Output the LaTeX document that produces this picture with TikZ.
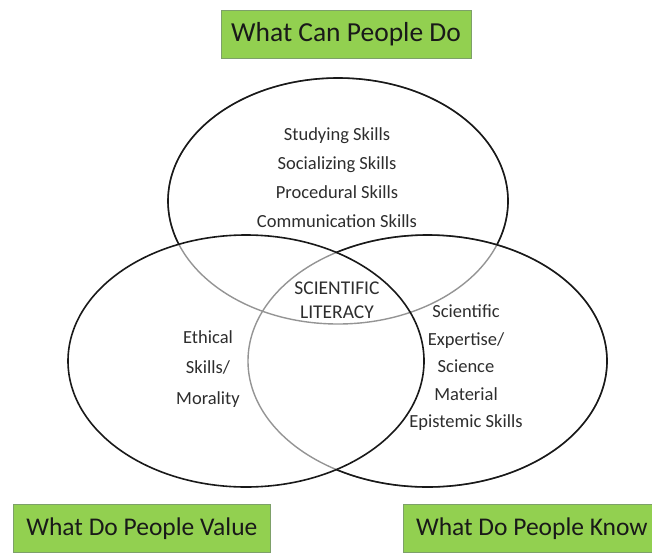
\documentclass[tikz,border=0pt]{standalone}
\usepackage{fontspec}
\setmainfont{Carlito}

\definecolor{boxgreen}{RGB}{146,208,80}
\definecolor{boxline}{RGB}{125,160,105}
\definecolor{skillgray}{RGB}{45,45,45}

\tikzset{
  titlebox/.style={draw=boxline, line width=0.8pt, fill=boxgreen, text=black!90,
    font=\fontsize{27.5}{30}\selectfont, minimum height=48pt, inner sep=0pt},
  skilltext/.style={text=skillgray, align=center, inner sep=0pt},
  ring/.style={line width=1.6pt, draw=black!90},
  innerring/.style={line width=1.4pt, draw=black!42},
  topsize/.style={x radius=170pt, y radius=123pt},
  leftsize/.style={x radius=178pt, y radius=126pt},
  rightsize/.style={x radius=179.5pt, y radius=126pt}
}

\begin{document}
\begin{tikzpicture}[x=1pt, y=-1pt]
\useasboundingbox (0,0) rectangle (652,552);
\clip (0,0) rectangle (652,552);

% set up ellipse centres
\coordinate (T) at (338,201);
\coordinate (L) at (246,361);
\coordinate (R) at (427.5,361);

% draw the arcs that lie inside the other sets
\draw[innerring] (R) ellipse [rightsize];
\draw[innerring] (T) ellipse [topsize];

% draw the outer arcs
\draw[ring] (L) ellipse [leftsize];
\begin{scope}[even odd rule]
  \clip (0,0) rectangle (652,552) (L) ellipse [leftsize];
  \draw[ring] (R) ellipse [rightsize];
  \begin{scope}[even odd rule]
    \clip (0,0) rectangle (652,552) (R) ellipse [rightsize];
    \draw[ring] (T) ellipse [topsize];
  \end{scope}
\end{scope}

% define the skill lists
\node[skilltext, font=\fontsize{18.5}{29}\selectfont] (can) at (337,178)
  {Studying Skills\\Socializing Skills\\Procedural Skills\\Communication Skills};
\node[skilltext, font=\fontsize{19.5}{24}\selectfont] (literacy) at (337,300)
  {SCIENTIFIC\\LITERACY};
\node[skilltext, font=\fontsize{18.5}{30.5}\selectfont] (value) at (208,369)
  {Ethical\\Skills/\\Morality};
\node[skilltext, font=\fontsize{18.5}{27.5}\selectfont] (know) at (466,368)
  {Scientific\\Expertise/\\Science\\Material\\Epistemic Skills};

% define the headings
\node[titlebox, minimum width=250pt] (dohead) at (346,34) {What Can People Do};
\node[titlebox, minimum width=257pt, anchor=north west,
  font=\fontsize{25.5}{28}\selectfont] (valuehead) at (13,504) {What Do People Value};
\node[titlebox, minimum width=257pt, anchor=north west,
  font=\fontsize{25.5}{28}\selectfont] (knowhead) at (403,504) {What Do People Know};

\end{tikzpicture}
\end{document}
